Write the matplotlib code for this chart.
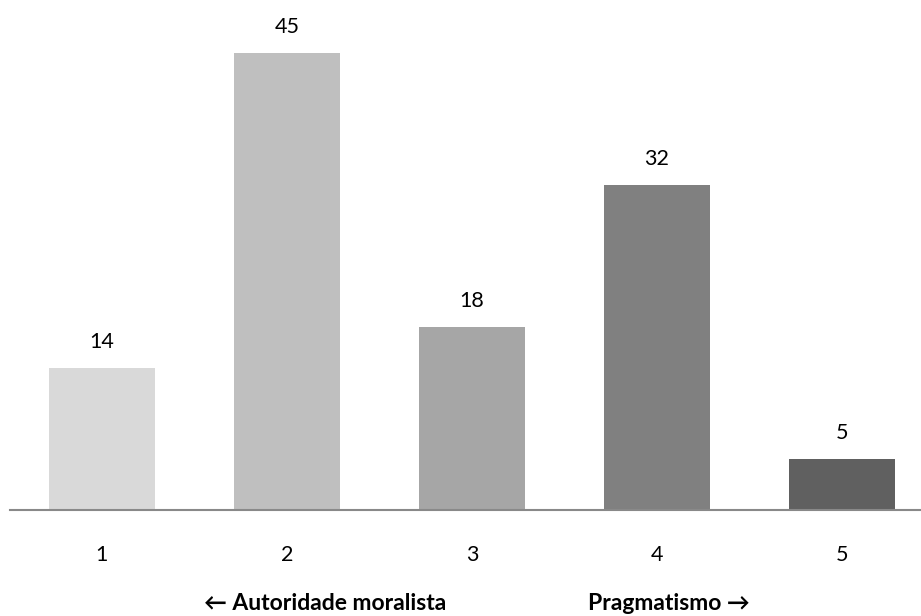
import matplotlib
matplotlib.use("Agg")
import matplotlib.pyplot as plt

categories = ["1", "2", "3", "4", "5"]
values = [14, 45, 18, 32, 5]
bar_colors = ["#D9D9D9", "#BFBFBF", "#A6A6A6", "#808080", "#606060"]
left_label = "\u2190 Autoridade moralista"
right_label = "Pragmatismo \u2192"

FONT = ["Lato", "DejaVu Sans"]
plt.rcParams["font.family"] = FONT

W, H = 921, 616
fig = plt.figure(figsize=(W / 100, H / 100), dpi=100)

# axes box in pixel terms: left edge at 10 px, baseline at 510 px from top
ax_left, ax_right = 10, 921
ax_bottom, ax_top = 510, 2
ax = fig.add_axes([ax_left / W, (H - ax_bottom) / H,
                   (ax_right - ax_left) / W, (ax_bottom - ax_top) / H])

x = list(range(len(categories)))
bars = ax.bar(x, values, width=0.573, color=bar_colors, zorder=2)

ax.set_xlim(-0.497, 4.427)
ax.set_ylim(0, 50)

for spine in ["top", "right", "left"]:
    ax.spines[spine].set_visible(False)
ax.spines["bottom"].set_color("#898989")
ax.spines["bottom"].set_linewidth(1.5)
ax.set_yticks([])
ax.set_xticks(x)
ax.set_xticklabels(categories, fontsize=15.5, color="#000000")
ax.tick_params(axis="x", length=0, pad=25)

for xi, v in zip(x, values):
    ax.annotate(str(v), xy=(xi, v), xytext=(0, 26), textcoords="offset pixels",
                ha="center", va="center", fontsize=15.5, color="#000000")

fig.text(325 / W, 1 - 604 / H, left_label, ha="center", va="center",
         fontsize=16.5, fontweight="bold", color="#000000")
fig.text(669 / W, 1 - 604 / H, right_label, ha="center", va="center",
         fontsize=16.5, fontweight="bold", color="#000000")

fig.savefig("out.png", dpi=100, facecolor="white")
